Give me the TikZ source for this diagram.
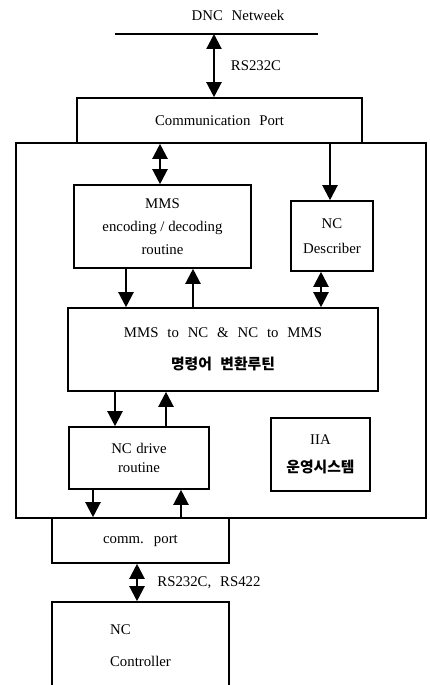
\documentclass[tikz,border=0pt]{standalone}
\usepackage{fontspec}
\setmainfont{Liberation Serif}[WordSpace=2.4]
\newfontfamily\kor{Noto Sans CJK KR}[WordSpace=2.5]
\usetikzlibrary{arrows.meta}

\begin{document}
\begin{tikzpicture}[x=1pt, y=-1pt, font=\fontsize{14.8}{23}\selectfont,
  box/.style={draw, line width=1.6pt, inner sep=0pt, align=center},
  arr/.style={line width=2.2pt, -{Triangle[width=15pt,length=15pt]}},
  both/.style={line width=2.2pt, {Triangle[width=15pt,length=15pt]}-{Triangle[width=15pt,length=15pt]}}]
\useasboundingbox (0,0) rectangle (429,685);
\node[box, minimum width=410pt, minimum height=375pt] (host) at (221,330.5) {};
\node[box, fill=white, minimum width=285pt, minimum height=45pt] (comport) at (219.5,120.5) {Communication Port};
\coordinate (netl) at (115,34); \coordinate (netr) at (318,34); \coordinate (tap) at (214,34);
\draw[line width=1.6pt] (netl) -- (netr); \node (netlabel) at (238,15) {DNC Netweek};
\draw[both] (tap) -- (tap |- comport.north) node[midway, right=12.5pt] (rs) {RS232C};
\node[box, minimum width=177pt, minimum height=83pt] (mms) at (162.5,226.5) {MMS\\encoding\hspace{.25em}/\hspace{.25em}decoding\\routine};
\node[box, minimum width=82pt, minimum height=70pt] (ncd) at (332,236) {NC\\[2pt]Describer};
\node[box, minimum width=310pt, minimum height=83pt] (conv) at (223,349.5) {MMS to NC \& NC to MMS\\[9pt]{\kor\bfseries 명령어 변환루틴}};
\node[box, minimum width=140pt, minimum height=62pt] (drive) at (139,458) {NC\hspace{.3em}drive\\[-4pt]routine};
\node[box, minimum width=99pt, minimum height=73pt] (iia) at (320.5,454.5) {IIA\\[5pt]{\kor\bfseries 운영시스템}};
\node[box, minimum width=177pt, minimum height=45pt] (port) at (140.5,540.5) {comm. port};
\node[box, align=left, minimum width=177pt, minimum height=88pt] (ctrl) at (140.5,646) {NC\\[9pt]Controller};
\draw[both] ([xshift=-2.5pt]mms.north) -- ([xshift=-2.5pt]mms.north |- comport.south);
\draw[arr] ([xshift=-2pt]ncd.north |- comport.south) -- ([xshift=-2pt]ncd.north);
\draw[arr] ([xshift=-36.5pt]mms.south) -- ([xshift=-36.5pt]mms.south |- conv.north);
\draw[arr] ([xshift=30.5pt]mms.south |- conv.north) -- ([xshift=30.5pt]mms.south);
\draw[both] ([xshift=-11pt]ncd.south) -- ([xshift=-11pt]ncd.south |- conv.north);
\draw[arr] ([xshift=-24pt]drive.north |- conv.south) -- ([xshift=-24pt]drive.north);
\draw[arr] ([xshift=27pt]drive.north) -- ([xshift=27pt]drive.north |- conv.south);
\draw[arr] ([xshift=-46pt]drive.south) -- ([xshift=-46pt]drive.south |- port.north);
\draw[arr] ([xshift=42pt]drive.south |- port.north) -- ([xshift=42pt]drive.south);
\draw[both] ([xshift=-3.5pt]port.south) -- ([xshift=-3.5pt]port.south |- ctrl.north) node[midway, right=16pt] (rs2) {RS232C, RS422};
\end{tikzpicture}
\end{document}
